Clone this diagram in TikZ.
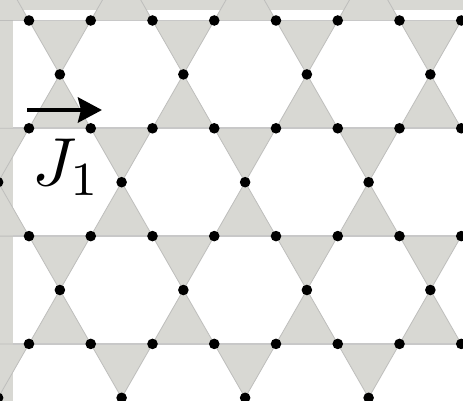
\documentclass[tikz,border=0pt]{standalone}
\usetikzlibrary{arrows.meta}
\definecolor{paper}{RGB}{216,216,211}
\definecolor{bondgrey}{RGB}{200,200,200}
\definecolor{edgegrey}{RGB}{190,190,188}
\begin{document}
\begin{tikzpicture}[x=1pt,y=-1pt,
  tri/.style={fill=paper,draw=edgegrey,line width=0.8pt,line join=round},
  bond/.style={bondgrey,line width=1.8pt},
  arrowline/.style={line width=4.5pt,-{Stealth[length=24pt,width=25pt,inset=3pt]}},
  biglabel/.style={anchor=base west,inner sep=0pt,scale=6.8,transform shape}]
\useasboundingbox (0,0) rectangle (463,401);
\fill[paper] (0,0) rectangle (463,401);
\fill[white] (13,10) rectangle (463,401);
\begin{scope}
\clip (0,0) rectangle (463,401);
% triangles
\foreach \j in {0,...,3} {
  \foreach \i in {-1,...,7} {
    \pgfmathsetmacro\xa{29+61.75*\i}
    \pgfmathsetmacro\xb{29+61.75*(\i+1)}
    \pgfmathsetmacro\xm{29+61.75*(\i+0.5)}
    \pgfmathsetmacro\ya{20.5+107.8*\j}
    \pgfmathtruncatemacro\pty{mod(\i+\j+10,2)}
    \ifnum\pty=0
      \pgfmathsetmacro\yc{\ya+53.9}
    \else
      \pgfmathsetmacro\yc{\ya-53.9}
    \fi
    \filldraw[tri] (\xa,\ya) -- (\xb,\ya) -- (\xm,\yc) -- cycle;
  }
}
% horizontal bonds
\foreach \j in {0,...,3} {
  \pgfmathsetmacro\ya{20.5+107.8*\j}
  \draw[bond] (13,\ya) -- (463,\ya);
}
% sites
\foreach \j in {0,...,3} {
  \pgfmathsetmacro\ya{20.5+107.8*\j}
  \pgfmathsetmacro\yc{\ya+53.9}
  \foreach \i in {0,...,7} {
    \pgfmathsetmacro\xa{29+61.75*\i}
    \fill[black] (\xa,\ya) circle (5.3);
  }
  \foreach \i in {-1,...,7} {
    \pgfmathtruncatemacro\pty{mod(\i+\j+10,2)}
    \ifnum\pty=0
      \pgfmathsetmacro\xm{29+61.75*(\i+0.5)}
      \fill[black] (\xm,\yc) circle (5.3);
    \fi
  }
}
\end{scope}
% arrow and label
\coordinate (arrowtail) at (27,110);
\coordinate (arrowtip) at (102,110);
\draw[arrowline] (arrowtail) -- (arrowtip);
\node[biglabel] (jlabel) at (31,185) {$J_1$};
\end{tikzpicture}
\end{document}
